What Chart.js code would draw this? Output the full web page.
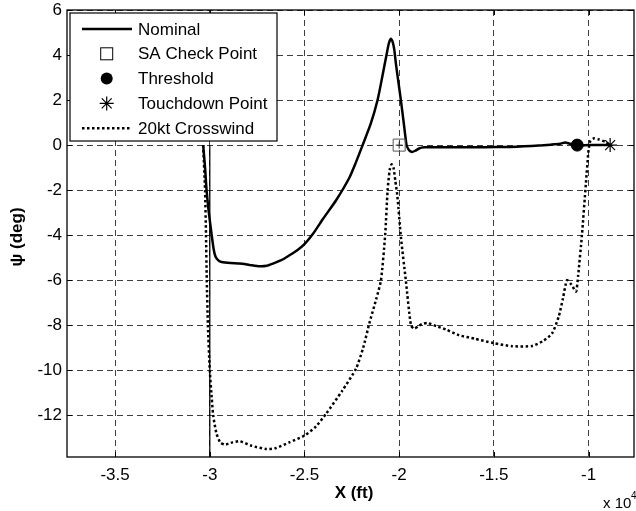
<!DOCTYPE html>
<html>
<head>
<meta charset="utf-8">
<script src="https://cdn.jsdelivr.net/npm/chart.js"></script>
<style>
  html, body { margin: 0; padding: 0; background: #fff; }
  canvas { display: block; }
</style>
</head>
<body>
<canvas id="chart" width="636" height="511"></canvas>
<script>
// heading angle psi (deg) against X, X in units of 1e4 ft
const nominalX = [-3.035, -3.025, -3.017, -3.005, -2.991, -2.980, -2.970, -2.955, -2.938, -2.890, -2.842, -2.790,
  -2.737, -2.700, -2.667, -2.620, -2.579, -2.540, -2.500, -2.456, -2.400, -2.333, -2.263, -2.230, -2.193,
  -2.150, -2.114, -2.090, -2.067, -2.055, -2.044, -2.035, -2.026, -2.017, -2.004, -1.991, -1.976, -1.961,
  -1.950, -1.940, -1.930, -1.915, -1.895, -1.868, -1.800, -1.700, -1.550, -1.420, -1.340, -1.263, -1.200,
  -1.150, -1.123, -1.100, -1.061, -1.000, -0.950, -0.886];
const nominalPsi = [0, -1.0, -2.0, -3.0, -3.93, -4.6, -4.95, -5.12, -5.19, -5.24, -5.26, -5.32,
  -5.38, -5.36, -5.26, -5.1, -4.89, -4.68, -4.40, -3.95, -3.25, -2.45, -1.45, -0.8, 0,
  0.95, 2.0, 3.0, 4.0, 4.5, 4.72, 4.6, 4.25, 3.6, 2.8, 2.0, 1.0, 0,
  -0.2, -0.28, -0.3, -0.25, -0.15, -0.1, -0.1, -0.1, -0.09, -0.08, -0.05, -0.02, 0.02,
  0.06, 0.12, 0.06, -0.02, 0, 0, 0];

const crosswindX = [-3.035, -3.025, -3.020, -3.016, -3.010, -3.000, -2.990, -2.982, -2.965, -2.945, -2.921,
  -2.880, -2.842, -2.780, -2.700, -2.650, -2.580, -2.500, -2.440, -2.386, -2.300, -2.228, -2.190, -2.158,
  -2.120, -2.096, -2.074, -2.061, -2.050, -2.040, -2.030, -2.020, -2.009, -1.991, -1.965, -1.938, -1.921,
  -1.900, -1.880, -1.851, -1.800, -1.750, -1.684, -1.600, -1.503, -1.404, -1.298, -1.240, -1.193, -1.158,
  -1.135, -1.114, -1.090, -1.066, -1.055, -1.035, -1.014, -1.000, -0.990, -0.970, -0.945, -0.912, -0.886];
const crosswindPsi = [0, -2.0, -4.0, -6.0, -8.0, -10.0, -11.2, -12.0, -12.8, -13.2, -13.3,
  -13.2, -13.15, -13.35, -13.5, -13.45, -13.2, -12.9, -12.5, -11.93, -10.9, -9.93, -9.0, -7.93,
  -6.8, -6.0, -4.0, -2.0, -1.1, -0.85, -1.0, -1.6, -2.3, -4.07, -6.0, -8.0, -8.15,
  -8.05, -7.95, -7.9, -8.05, -8.2, -8.44, -8.6, -8.79, -8.93, -8.92, -8.7, -8.37, -7.63,
  -6.8, -6.0, -6.2, -6.5, -5.8, -4.0, -1.7, -0.22, 0.2, 0.3, 0.25, 0.15, 0];

const saCheckPoint = { x: -2.0, y: 0 };
const thresholdPoint = { x: -1.06, y: 0 };
const touchdownPoint = { x: -0.886, y: 0 };
const startLineX = [-3.0, -3.0];
const startLinePsi = [0, -13.85];

const xTicks = [-3.5, -3, -2.5, -2, -1.5, -1];
const yTicks = [-12, -10, -8, -6, -4, -2, 0, 2, 4, 6];
const legendLabels = ['Nominal', 'SA Check Point', 'Threshold', 'Touchdown Point', '20kt Crosswind'];

const FONT = "'Liberation Sans', Arial, Helvetica, sans-serif";
const pts = (xs, ys) => xs.map((x, i) => ({ x, y: ys[i] }));

// draws the frame, inner ticks, legend box and axis titles the way matlab does
const matlabFrame = {
  id: 'matlabFrame',
  beforeDraw(chart) {
    const { ctx } = chart;
    ctx.save();
    ctx.fillStyle = '#fff';
    ctx.fillRect(0, 0, chart.width, chart.height);
    ctx.restore();
  },
  afterDraw(chart) {
    const { ctx, chartArea: a, scales } = chart;
    ctx.save();

    // inner tick marks
    ctx.strokeStyle = '#000';
    ctx.lineWidth = 1;
    ctx.beginPath();
    xTicks.forEach(v => {
      const px = Math.round(scales.x.getPixelForValue(v)) + 0.5;
      ctx.moveTo(px, a.bottom); ctx.lineTo(px, a.bottom - 5);
      ctx.moveTo(px, a.top); ctx.lineTo(px, a.top + 5);
    });
    yTicks.forEach(v => {
      const py = Math.round(scales.y.getPixelForValue(v)) + 0.5;
      ctx.moveTo(a.left, py); ctx.lineTo(a.left + 5, py);
      ctx.moveTo(a.right, py); ctx.lineTo(a.right - 5, py);
    });
    ctx.stroke();

    // axes box
    ctx.lineWidth = 1.3;
    ctx.strokeRect(a.left, a.top, a.right - a.left, a.bottom - a.top);

    // legend
    const lx = 70, ly = 13, lw = 207, lh = 128;
    ctx.fillStyle = '#fff';
    ctx.fillRect(lx, ly, lw, lh);
    ctx.lineWidth = 1.2;
    ctx.strokeRect(lx, ly, lw, lh);
    const rowY = i => 29 + i * 24.8;
    const sx = 106.7;
    ctx.font = '17px ' + FONT;
    ctx.textBaseline = 'middle';
    ctx.textAlign = 'left';
    legendLabels.forEach((lab, i) => {
      const y = rowY(i);
      ctx.fillStyle = '#000';
      ctx.strokeStyle = '#000';
      if (i === 0 || i === 4) {
        ctx.lineWidth = 2.5;
        ctx.setLineDash(i === 4 ? [2.5, 2.5] : []);
        ctx.beginPath(); ctx.moveTo(82, y); ctx.lineTo(132, y); ctx.stroke();
        ctx.setLineDash([]);
      } else if (i === 1) {
        ctx.lineWidth = 1;
        ctx.strokeRect(sx - 6, y - 6, 12, 12);
      } else if (i === 2) {
        ctx.beginPath(); ctx.arc(sx, y, 6, 0, Math.PI * 2); ctx.fill();
      } else {
        ctx.lineWidth = 1.2;
        ctx.beginPath();
        for (let k = 0; k < 4; k++) {
          const ang = k * Math.PI / 4;
          ctx.moveTo(sx - 7 * Math.cos(ang), y - 7 * Math.sin(ang));
          ctx.lineTo(sx + 7 * Math.cos(ang), y + 7 * Math.sin(ang));
        }
        ctx.stroke();
      }
      ctx.fillText(lab, 138, y + 1);
    });

    // axis titles
    ctx.fillStyle = '#000';
    ctx.font = 'bold 17px ' + FONT;
    ctx.textAlign = 'center';
    ctx.fillText('X (ft)', 354, 493);
    ctx.save();
    ctx.translate(17, 237);
    ctx.rotate(-Math.PI / 2);
    ctx.fillText('\u03C8 (deg)', 0, 0);
    ctx.restore();

    // exponent label
    ctx.textAlign = 'left';
    ctx.textBaseline = 'alphabetic';
    ctx.font = '15px ' + FONT;
    ctx.fillText('x 10', 603, 508);
    ctx.font = '10px ' + FONT;
    ctx.fillText('4', 631, 499);
    ctx.restore();
  }
};

new Chart(document.getElementById('chart'), {
  type: 'scatter',
  data: {
    datasets: [
      { label: 'SA Check Point', data: [saCheckPoint], pointStyle: 'rect', pointRadius: 8.5,
        pointBorderColor: '#555', pointBackgroundColor: 'rgba(0,0,0,0)', pointBorderWidth: 1 },
      { label: 'sa-mark', data: [saCheckPoint], pointStyle: 'cross', pointRadius: 3.5,
        pointBorderColor: '#333', pointBorderWidth: 1 },
      { label: 'Threshold', data: [thresholdPoint], pointStyle: 'circle', pointRadius: 6,
        pointBackgroundColor: '#000', pointBorderColor: '#000' },
      { label: 'Touchdown Point', data: [touchdownPoint], pointStyle: 'star', pointRadius: 7,
        pointBorderColor: '#000', pointBorderWidth: 1.2 },
      { label: 'Nominal', data: pts(nominalX, nominalPsi), showLine: true, borderColor: '#000',
        borderWidth: 2.5, pointRadius: 0, tension: 0.2 },
      { label: '20kt Crosswind', data: pts(crosswindX, crosswindPsi), showLine: true, borderColor: '#000',
        borderWidth: 2.5, borderDash: [2.5, 2.5], pointRadius: 0, tension: 0.2 },
      { label: 'start', data: pts(startLineX, startLinePsi), showLine: true, borderColor: 'rgba(0,0,0,0.6)',
        borderWidth: 1, pointRadius: 0 }
    ]
  },
  options: {
    responsive: false,
    animation: false,
    devicePixelRatio: 1,
    // markers would otherwise push the plot box in from the right edge
    layout: { autoPadding: false, padding: { top: 10, right: 2, left: 0, bottom: 0 } },
    plugins: { legend: { display: false }, tooltip: { enabled: false } },
    scales: {
      x: {
        type: 'linear', min: -3.754, max: -0.76,
        afterBuildTicks: s => { s.ticks = xTicks.map(v => ({ value: v })); },
        afterFit: s => { s.height = 54; s.paddingLeft = 0; s.paddingRight = 0; },
        ticks: { callback: v => String(v), color: '#000', font: { family: FONT, size: 17 },
          padding: 8, maxRotation: 0, autoSkip: false },
        grid: { color: 'rgba(0,0,0,0.75)', lineWidth: 1, drawTicks: false },
        border: { display: false, dash: [6, 4] }
      },
      y: {
        type: 'linear', min: -13.85, max: 6,
        afterBuildTicks: s => { s.ticks = yTicks.map(v => ({ value: v })); },
        afterFit: s => { s.width = 67; s.paddingTop = 0; s.paddingBottom = 0; },
        ticks: { callback: v => String(v), color: '#000', font: { family: FONT, size: 17 },
          padding: 5, autoSkip: false },
        grid: { color: 'rgba(0,0,0,0.75)', lineWidth: 1, drawTicks: false },
        border: { display: false, dash: [6, 4] }
      }
    }
  },
  plugins: [matlabFrame]
});
</script>
</body>
</html>
